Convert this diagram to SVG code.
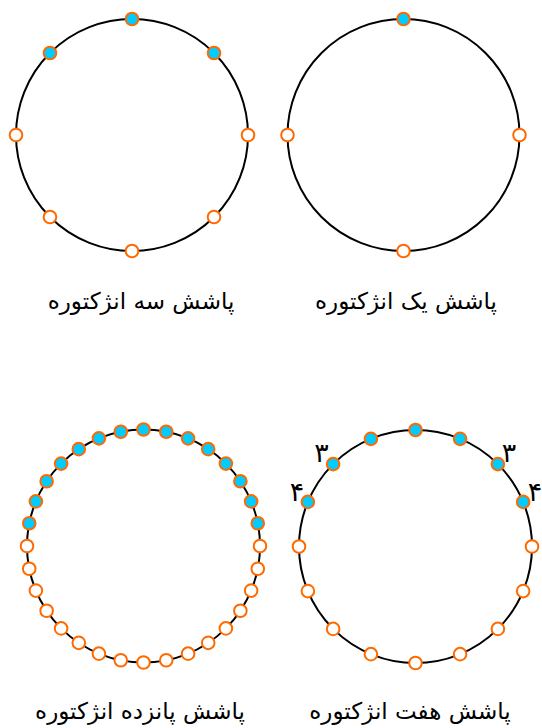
<svg xmlns="http://www.w3.org/2000/svg" width="542" height="728" viewBox="0 0 542 728">
<style>
.ring{fill:none;stroke:#000;stroke-width:2}
.on{fill:#00ccff;stroke:#ff6a00;stroke-width:2}
.off{fill:#fff;stroke:#ff6a00;stroke-width:2}
.lbl{font-family:"DejaVu Sans","Noto Sans",sans-serif;font-size:23px;fill:#000;text-anchor:middle}
.num{font-family:"DejaVu Sans","Noto Sans",sans-serif;font-size:27px;fill:#000;text-anchor:middle}
</style>
<defs>
<circle id="d" r="6.3"/>
</defs>
<g id="three">
<circle class="ring" cx="132" cy="135" r="116"/>
<use href="#d" class="on" x="132" y="19"/>
<use href="#d" class="on" x="214.02" y="52.98"/>
<use href="#d" class="off" x="248" y="135"/>
<use href="#d" class="off" x="214.02" y="217.02"/>
<use href="#d" class="off" x="132" y="251"/>
<use href="#d" class="off" x="49.98" y="217.02"/>
<use href="#d" class="off" x="16" y="135"/>
<use href="#d" class="on" x="49.98" y="52.98"/>
<text class="lbl" x="141" y="309" direction="rtl">پاشش سه انژکتوره</text>
</g>
<g id="one">
<circle class="ring" cx="403.5" cy="135" r="116"/>
<use href="#d" class="on" x="403.5" y="19"/>
<use href="#d" class="off" x="519.5" y="135"/>
<use href="#d" class="off" x="403.5" y="251"/>
<use href="#d" class="off" x="287.5" y="135"/>
<text class="lbl" x="406" y="309" direction="rtl">پاشش یک انژکتوره</text>
</g>
<g id="fifteen">
<circle class="ring" cx="143.5" cy="546" r="116.5"/>
<use href="#d" class="on" x="143.5" y="429.5"/>
<use href="#d" class="on" x="166.23" y="431.74"/>
<use href="#d" class="on" x="188.08" y="438.37"/>
<use href="#d" class="on" x="208.22" y="449.13"/>
<use href="#d" class="on" x="225.88" y="463.62"/>
<use href="#d" class="on" x="240.37" y="481.28"/>
<use href="#d" class="on" x="251.13" y="501.42"/>
<use href="#d" class="on" x="257.76" y="523.27"/>
<use href="#d" class="off" x="260" y="546"/>
<use href="#d" class="off" x="257.76" y="568.73"/>
<use href="#d" class="off" x="251.13" y="590.58"/>
<use href="#d" class="off" x="240.37" y="610.72"/>
<use href="#d" class="off" x="225.88" y="628.38"/>
<use href="#d" class="off" x="208.22" y="642.87"/>
<use href="#d" class="off" x="188.08" y="653.63"/>
<use href="#d" class="off" x="166.23" y="660.26"/>
<use href="#d" class="off" x="143.5" y="662.5"/>
<use href="#d" class="off" x="120.77" y="660.26"/>
<use href="#d" class="off" x="98.92" y="653.63"/>
<use href="#d" class="off" x="78.78" y="642.87"/>
<use href="#d" class="off" x="61.12" y="628.38"/>
<use href="#d" class="off" x="46.63" y="610.72"/>
<use href="#d" class="off" x="35.87" y="590.58"/>
<use href="#d" class="off" x="29.24" y="568.73"/>
<use href="#d" class="off" x="27" y="546"/>
<use href="#d" class="on" x="29.24" y="523.27"/>
<use href="#d" class="on" x="35.87" y="501.42"/>
<use href="#d" class="on" x="46.63" y="481.28"/>
<use href="#d" class="on" x="61.12" y="463.62"/>
<use href="#d" class="on" x="78.78" y="449.13"/>
<use href="#d" class="on" x="98.92" y="438.37"/>
<use href="#d" class="on" x="120.77" y="431.74"/>
<text class="lbl" x="140" y="719" direction="rtl">پاشش پانزده انژکتوره</text>
</g>
<g id="seven">
<circle class="ring" cx="415.5" cy="546.5" r="116.5"/>
<use href="#d" class="on" x="415.5" y="430"/>
<use href="#d" class="on" x="460.08" y="438.87"/>
<use href="#d" class="on" x="497.88" y="464.12"/>
<use href="#d" class="on" x="523.13" y="501.92"/>
<use href="#d" class="off" x="532" y="546.5"/>
<use href="#d" class="off" x="523.13" y="591.08"/>
<use href="#d" class="off" x="497.88" y="628.88"/>
<use href="#d" class="off" x="460.08" y="654.13"/>
<use href="#d" class="off" x="415.5" y="663"/>
<use href="#d" class="off" x="370.92" y="654.13"/>
<use href="#d" class="off" x="333.12" y="628.88"/>
<use href="#d" class="off" x="307.87" y="591.08"/>
<use href="#d" class="off" x="299" y="546.5"/>
<use href="#d" class="on" x="307.87" y="501.92"/>
<use href="#d" class="on" x="333.12" y="464.12"/>
<use href="#d" class="on" x="370.92" y="438.87"/>
<text class="num" x="321.5" y="462">۳</text>
<text class="num" x="509" y="462">۳</text>
<text class="num" x="297" y="501">۴</text>
<text class="num" x="535" y="501">۴</text>
<text class="lbl" x="410" y="719" direction="rtl">پاشش هفت انژکتوره</text>
</g>
</svg>
